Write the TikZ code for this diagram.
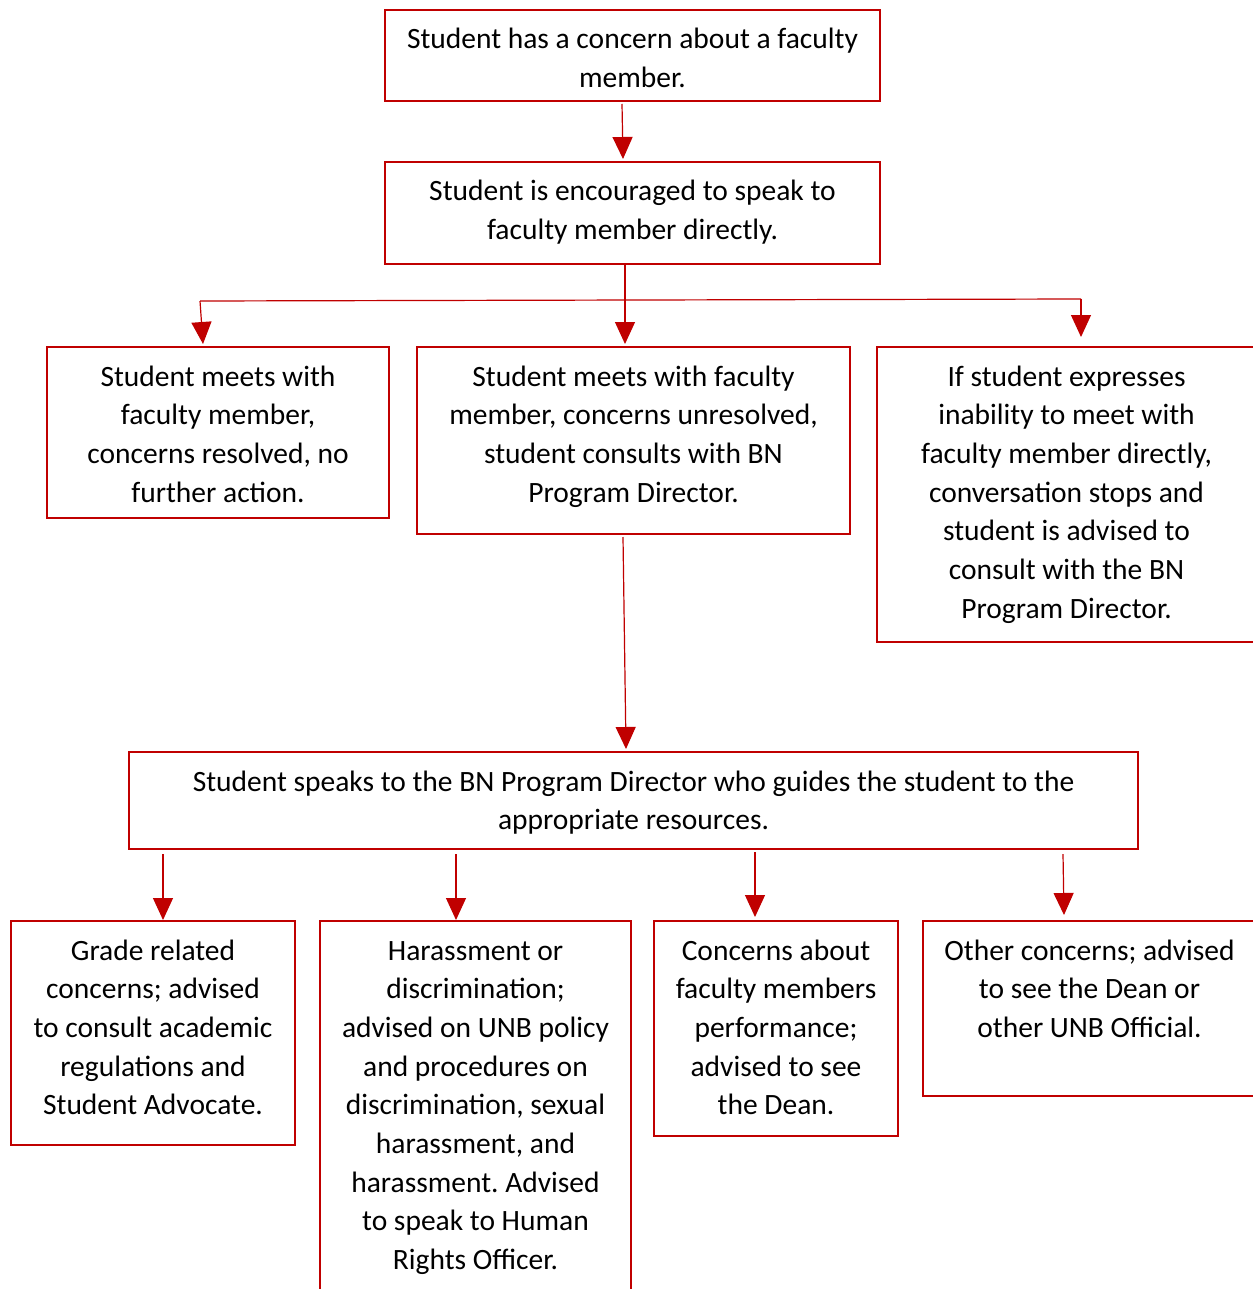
\documentclass[tikz,border=0pt]{standalone}
\usepackage{fontspec}
\setmainfont{Carlito}
\usetikzlibrary{arrows.meta}
\definecolor{myred}{HTML}{C00000}
\frenchspacing
\newcommand\btext[3]{\parbox[c][#2][t]{#1}{\centering\rule{0pt}{19.5pt}#3\par}}
\tikzset{
  box/.style={draw=myred, line width=1pt, inner sep=0pt, rectangle, font=\fontsize{14.75pt}{19.35pt}\selectfont},
  conn/.style={draw=myred, line width=0.6pt, -{Triangle[width=10pt,length=11pt]}},
  plain/.style={draw=myred, line width=0.6pt}
}
\begin{document}
\begin{tikzpicture}[x=0.5pt,y=-0.5pt]
\useasboundingbox (0,0) rectangle (1252,1289);
\node[box] (b1) at (632.5,55.5) {\btext{247.5pt}{45.5pt}{Student has a concern about a faculty\\member.}};
\node[box] (b2) at (632.5,213) {\btext{247.5pt}{51pt}{Student is encouraged to speak to\\faculty member directly.}};
\node[box] (b3) at (218,432.5) {\btext{171pt}{85.5pt}{Student meets with\\faculty member,\\concerns resolved, no\\further action.}};
\node[box] (b4) at (633.5,440.5) {\btext{216.5pt}{93.5pt}{Student meets with faculty\\member, concerns unresolved,\\student consults with BN\\Program Director.}};
\node[box] (b5) at (1066.5,494.5) {\btext{189.5pt}{147.5pt}{If student expresses\\inability to meet with\\faculty member directly,\\conversation stops and\\student is advised to\\consult with the BN\\Program Director.}};
\node[box] (b6) at (633.5,800.5) {\btext{504.5pt}{48.5pt}{Student speaks to the BN Program Director who guides the student to the\\appropriate resources.}};
\node[box] (b7) at (153,1033) {\btext{142pt}{112pt}{Grade related\\concerns; advised\\to consult academic\\regulations and\\Student Advocate.}};
\node[box] (b8) at (475.5,1110.5) {\btext{155.5pt}{189.5pt}{Harassment or\\discrimination;\\advised on UNB policy\\and procedures on\\discrimination, sexual\\harassment, and\\harassment. Advised\\to speak to Human\\Rights Officer.}};
\node[box] (b9) at (776,1028.5) {\btext{122pt}{107.5pt}{Concerns about\\faculty members\\performance;\\advised to see\\the Dean.}};
\node[box] (b10) at (1089.5,1008.5) {\btext{166.5pt}{87.5pt}{Other concerns; advised\\to see the Dean or\\other UNB Official.}};
% connectors
\draw[conn] ([xshift=-5.25pt,yshift=-1pt]b1.south) -- ([xshift=-4.75pt,yshift=1pt]b2.north);
\draw[conn] ([xshift=-3.75pt]b2.south) -- ([xshift=-4.25pt,yshift=1pt]b4.north);
\coordinate (hl) at (200,301);
\coordinate (hr) at (1081,299);
\draw[plain] (hl) -- (hr);
\draw[conn] (hl) -- ([xshift=-7.5pt,yshift=1pt]b3.north);
\draw[conn] (hr) -- ([xshift=102.5pt,yshift=4.5pt]b5.north west);
\draw[conn] ([xshift=-5.25pt,yshift=-1pt]b4.south) -- ([xshift=-3.75pt,yshift=1pt]b6.north);
\draw[conn] ([xshift=-235.25pt,yshift=-2pt]b6.south) -- ([xshift=5pt]b7.north);
\draw[conn] ([xshift=-88.75pt,yshift=-2pt]b6.south) -- ([xshift=-9.75pt]b8.north);
\draw[conn] ([xshift=60.75pt,yshift=-1pt]b6.south) -- ([xshift=-10.5pt,yshift=1.5pt]b9.north);
\draw[conn] ([xshift=214.75pt,yshift=-2pt]b6.south) -- ([xshift=71pt,yshift=2.5pt]b10.north west);
\end{tikzpicture}
\end{document}
